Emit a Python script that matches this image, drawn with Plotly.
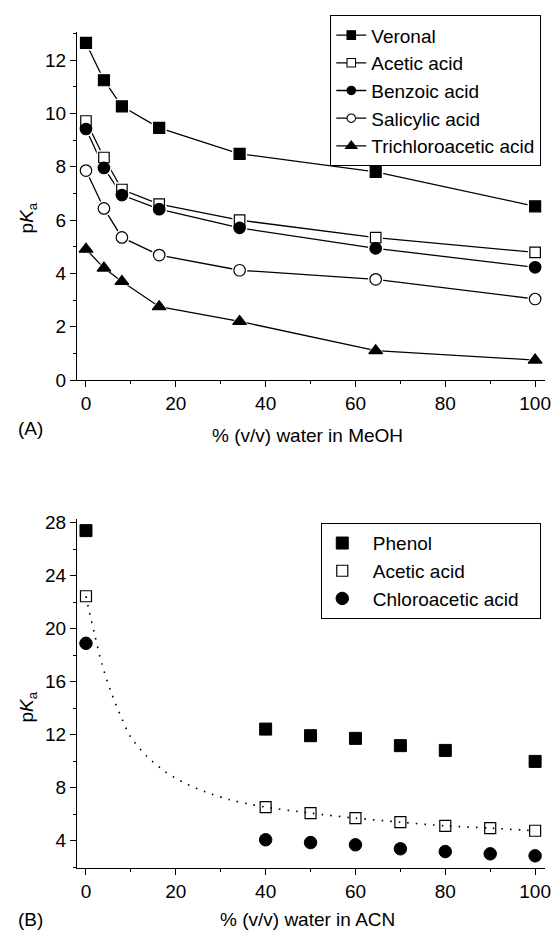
import plotly.graph_objects as go

# ---------------- data ----------------
# Panel A: % (v/v) water in MeOH
x_meoh = [0, 4, 8, 16.3, 34.2, 64.5, 100]
veronal = [12.65, 11.25, 10.27, 9.46, 8.49, 7.81, 6.52]
acetic_meoh = [9.72, 8.35, 7.15, 6.6, 6.0, 5.34, 4.79]
benzoic = [9.42, 7.96, 6.94, 6.41, 5.71, 4.94, 4.23]
salicylic = [7.86, 6.44, 5.35, 4.69, 4.12, 3.78, 3.04]
trichloroacetic = [4.91, 4.2, 3.7, 2.75, 2.2, 1.1, 0.75]

# Panel B: % (v/v) water in ACN
x_phenol = [0, 40, 50, 60, 70, 80, 100]
phenol = [27.4, 12.43, 11.93, 11.73, 11.18, 10.82, 9.99]
x_acetic_acn = [0, 40, 50, 60, 70, 80, 90, 100]
acetic_acn = [22.45, 6.54, 6.09, 5.71, 5.41, 5.13, 4.96, 4.76]
x_chloro = [0, 40, 50, 60, 70, 80, 90, 100]
chloroacetic = [18.9, 4.08, 3.87, 3.7, 3.4, 3.19, 3.02, 2.87]

# dotted fitted curve for acetic acid in ACN
fit_x = [0, 0.6, 1.9, 3.5, 5.5, 8, 10, 13.5, 17.5, 22, 26.5, 32, 36, 40, 50, 60, 70, 80, 90, 100]
fit_y = [22.45, 21.5, 19.6, 17.4, 15.3, 13.2, 11.8, 10.4, 9.25, 8.35, 7.7, 7.1, 6.8, 6.54, 6.09, 5.71, 5.41, 5.13, 4.96, 4.76]

FONT = "Liberation Sans, Arial, Helvetica, sans-serif"
NB = "\u00a0"

fig = go.Figure()

series_a = [
    ("Veronal", veronal, "square", "black", 11),
    ("Acetic acid", acetic_meoh, "square", "white", 10.5),
    ("Benzoic acid", benzoic, "circle", "black", 11.5),
    ("Salicylic acid", salicylic, "circle", "white", 11.5),
    ("Trichloroacetic acid", trichloroacetic, "triangle-up", "black", 12),
]

# lines
for name, ys, sym, fill, sz in series_a:
    fig.add_trace(go.Scatter(x=x_meoh, y=ys, mode="lines",
                             line=dict(color="black", width=1.3),
                             showlegend=False, hoverinfo="skip",
                             xaxis="x", yaxis="y"))
# white halos (gap between line and marker)
for name, ys, sym, fill, sz in series_a:
    fig.add_trace(go.Scatter(x=x_meoh, y=ys, mode="markers",
                             marker=dict(symbol=sym, size=sz + 4, color="white",
                                         line=dict(width=0)),
                             showlegend=False, hoverinfo="skip",
                             xaxis="x", yaxis="y"))
# markers
for name, ys, sym, fill, sz in series_a:
    fig.add_trace(go.Scatter(x=x_meoh, y=ys, mode="markers", name=name,
                             marker=dict(symbol=sym, size=sz, color=fill,
                                         line=dict(color="black", width=1.2)),
                             showlegend=False,
                             xaxis="x", yaxis="y"))
# legend entries for panel A
for name, ys, sym, fill, sz in series_a:
    fig.add_trace(go.Scatter(x=[None], y=[None], mode="lines+markers", name=name,
                             line=dict(color="black", width=1.3),
                             marker=dict(symbol=sym, size=8.5 if sym != "triangle-up" else 10,
                                         color=fill,
                                         line=dict(color="black", width=1.1)),
                             legend="legend", xaxis="x", yaxis="y"))

# Panel B
fig.add_trace(go.Scatter(x=x_phenol, y=phenol, mode="markers", name=NB * 2 + "Phenol",
                         marker=dict(symbol="square", size=12, color="black",
                                     line=dict(color="black", width=1)),
                         legend="legend2", xaxis="x2", yaxis="y2"))
fig.add_trace(go.Scatter(x=x_acetic_acn, y=acetic_acn, mode="markers", name=NB * 2 + "Acetic acid",
                         marker=dict(symbol="square", size=11, color="white",
                                     line=dict(color="black", width=1.2)),
                         legend="legend2", xaxis="x2", yaxis="y2"))
fig.add_trace(go.Scatter(x=x_chloro, y=chloroacetic, mode="markers",
                         name=NB * 2 + "Chloroacetic acid" + NB * 3,
                         marker=dict(symbol="circle", size=12.5, color="black",
                                     line=dict(color="black", width=1)),
                         legend="legend2", xaxis="x2", yaxis="y2"))
fig.add_trace(go.Scatter(x=fit_x, y=fit_y, mode="lines",
                         line=dict(color="black", width=1.6, dash="1.6px,7px", shape="spline",
                                   smoothing=0.8),
                         showlegend=False, hoverinfo="skip",
                         xaxis="x2", yaxis="y2"))

axis_common = dict(
    showline=True, linecolor="black", linewidth=1.3, mirror=False,
    ticks="outside", ticklen=6, tickwidth=1.3, tickcolor="black",
    showgrid=False, zeroline=False,
    tickfont=dict(family=FONT, size=19, color="black"),
)
minor_common = dict(ticks="outside", ticklen=3, tickwidth=1.3, tickcolor="black")

fig.update_layout(
    width=558, height=932,
    margin=dict(l=77, r=7, t=32, b=64),
    paper_bgcolor="white", plot_bgcolor="white",
    font=dict(family=FONT, size=19, color="black"),
    xaxis=dict(domain=[0, 1], anchor="y", range=[-2, 102.2], tick0=0, dtick=20,
               minor=dict(dtick=10, **minor_common), **axis_common),
    yaxis=dict(domain=[0.5837, 1], anchor="x", range=[0, 13.06], tick0=0, dtick=2,
               minor=dict(dtick=1, **minor_common), **axis_common),
    xaxis2=dict(domain=[0, 1], anchor="y2", range=[-2, 102.2], tick0=0, dtick=20,
                minor=dict(dtick=10, **minor_common), **axis_common),
    yaxis2=dict(domain=[0, 0.4175], anchor="x2", range=[1.95, 28.28], tick0=0, dtick=4,
                minor=dict(dtick=2, **minor_common), **axis_common),
    legend=dict(x=0.9916, y=1.0203, xanchor="right", yanchor="top",
                bordercolor="black", borderwidth=1.2, bgcolor="white",
                font=dict(family=FONT, size=19, color="black")),
    legend2=dict(x=0.9916, y=0.4127, xanchor="right", yanchor="top",
                 bordercolor="black", borderwidth=1.2, bgcolor="white",
                 font=dict(family=FONT, size=19, color="black")),
    annotations=[
        dict(text="p<i>K</i><sub>a</sub>", xref="paper", yref="paper", x=-0.105, y=0.778,
             textangle=-90, showarrow=False, xanchor="center", yanchor="middle",
             font=dict(family=FONT, size=19)),
        dict(text="p<i>K</i><sub>a</sub>", xref="paper", yref="paper", x=-0.105, y=0.193,
             textangle=-90, showarrow=False, xanchor="center", yanchor="middle",
             font=dict(family=FONT, size=19)),
        dict(text="% (v/v) water in MeOH", xref="paper", yref="paper", x=0.492, y=0.5176,
             showarrow=False, xanchor="center", yanchor="middle",
             font=dict(family=FONT, size=19)),
        dict(text="% (v/v) water in ACN", xref="paper", yref="paper", x=0.492, y=-0.0622,
             showarrow=False, xanchor="center", yanchor="middle",
             font=dict(family=FONT, size=19)),
        dict(text="(A)", xref="paper", yref="paper", x=-0.1, y=0.526,
             showarrow=False, xanchor="center", yanchor="middle",
             font=dict(family=FONT, size=19)),
        dict(text="(B)", xref="paper", yref="paper", x=-0.1, y=-0.0622,
             showarrow=False, xanchor="center", yanchor="middle",
             font=dict(family=FONT, size=19)),
    ],
)

fig.write_html(
    "out.html",
    config={"displayModeBar": False},
    post_script="document.body.style.margin='0';document.body.style.padding='0';"
                "document.documentElement.style.overflow='hidden';",
)
